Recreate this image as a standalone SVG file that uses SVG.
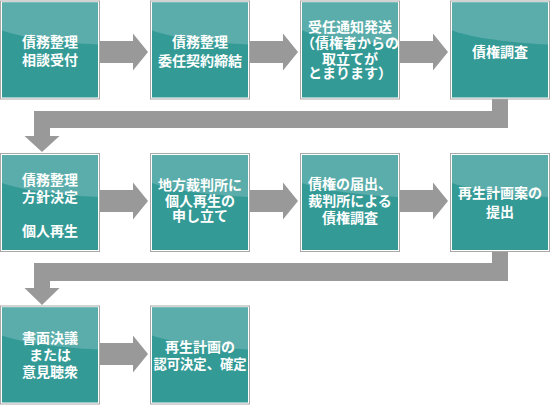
<svg xmlns="http://www.w3.org/2000/svg" width="550" height="405" viewBox="0 0 550 405">
<style>
.frame{fill:#ffffff;stroke:#a8a8a8;stroke-width:1}
.base{fill:#349a96}
.gloss{fill:#5aadaa}
.conn{fill:#999999}
text{font-family:"Noto Sans CJK JP","Noto Sans CJK SC",sans-serif;font-size:14px;font-weight:bold;fill:#ffffff;text-anchor:middle}
</style>
<defs>
<g id="box">
<rect class="frame" x="0.5" y="0.5" width="99" height="98"/>
<rect class="base" x="2" y="2" width="96" height="95"/>
<path class="gloss" d="M2,2 H98 V44 C60,42 25,38 2,30 Z"/>
</g>
<path id="arr" d="M0,-11 H33 V-18.5 L48,0 L33,18.5 V11 H0 Z"/>
</defs>
<rect width="550" height="405" fill="#ffffff"/>
<g id="connectors">
<use href="#arr" class="conn" x="100" y="52"/>
<use href="#arr" class="conn" x="250" y="52"/>
<use href="#arr" class="conn" x="400" y="52"/>
<polygon class="conn" points="508,99 508,128 50,128 50,136 59.5,136 42,152 24.5,136 34,136 34,111 492,111 492,99"/>
<use href="#arr" class="conn" x="100" y="201"/>
<use href="#arr" class="conn" x="250" y="201"/>
<use href="#arr" class="conn" x="400" y="201"/>
<polygon class="conn" points="508,252 508,281 50,281 50,288 59.5,288 42,305 24.5,288 34,288 34,263 492,263 492,252"/>
<use href="#arr" class="conn" x="100" y="354"/>
</g>
<g id="n1"><use href="#box" x="0" y="0.5"/><text x="50" y="47">債務整理</text><text x="50" y="65">相談受付</text></g>
<g id="n2"><use href="#box" x="150" y="0.5"/><text x="200" y="47">債務整理</text><text x="200" y="65.5">委任契約締結</text></g>
<g id="n3"><use href="#box" x="300" y="0.5"/><text x="350" y="32">受任通知発送</text><text x="350" y="48">（債権者からの</text><text x="350" y="63.5">取立てが</text><text x="350" y="77.5">とまります）</text></g>
<g id="n4"><use href="#box" x="450" y="0.5"/><text x="500" y="57">債権調査</text></g>
<g id="n5"><use href="#box" x="0" y="153"/><text x="50" y="184.5">債務整理</text><text x="50" y="202">方針決定</text><text x="50" y="236">個人再生</text></g>
<g id="n6"><use href="#box" x="150" y="153"/><text x="200" y="190">地方裁判所に</text><text x="200" y="206">個人再生の</text><text x="200" y="221">申し立て</text></g>
<g id="n7"><use href="#box" x="300" y="153"/><text x="350" y="189">債権の届出、</text><text x="350" y="205.5">裁判所による</text><text x="350" y="223">債権調査</text></g>
<g id="n8"><use href="#box" x="450" y="153"/><text x="500" y="198">再生計画案の</text><text x="500" y="217">提出</text></g>
<g id="n9"><use href="#box" x="0" y="305.5"/><text x="50" y="343">書面決議</text><text x="50" y="360">または</text><text x="50" y="377">意見聴衆</text></g>
<g id="n10"><use href="#box" x="150" y="305.5"/><text x="200" y="352">再生計画の</text><text x="200" y="368.5" style="font-size:13.3px">認可決定、確定</text></g>
</svg>
